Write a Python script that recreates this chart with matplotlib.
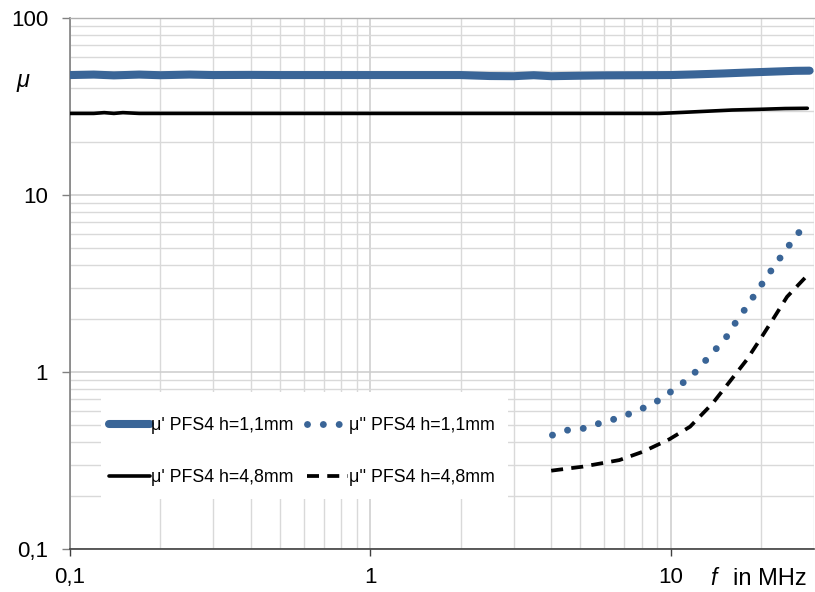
import matplotlib
matplotlib.use('Agg')
import matplotlib.pyplot as plt
from matplotlib.ticker import FixedLocator, FixedFormatter, LogLocator, NullFormatter
from matplotlib.patches import Rectangle

plt.rcParams['font.family'] = ['Liberation Sans', 'DejaVu Sans']

# ---------------- data ----------------
# mu' PFS4 h=1,1mm
f_mu1_a = [0.1, 0.12, 0.14, 0.17, 0.2, 0.25, 0.3, 0.4, 0.5, 0.7, 1, 1.5, 2, 2.5,
           3, 3.5, 4, 5, 6, 8, 10, 12, 15, 18, 22, 26, 29]
mu1_a = [47.6, 47.9, 47.4, 47.9, 47.5, 47.9, 47.6, 47.7, 47.6, 47.6, 47.6, 47.6, 47.6, 47.0,
         46.9, 47.5, 46.9, 47.2, 47.4, 47.5, 47.6, 48.0, 48.6, 49.2, 49.8, 50.3, 50.4]
# mu' PFS4 h=4,8mm
f_mu1_b = [0.1, 0.12, 0.13, 0.14, 0.15, 0.17, 0.2, 0.3, 0.5, 1, 2, 3, 5, 7, 9.2, 11,
           13, 16, 20, 24, 28.5]
mu1_b = [28.9, 28.9, 29.2, 28.9, 29.2, 28.9, 28.9, 28.9, 28.9, 28.9, 28.9, 28.9, 28.9, 28.9,
         28.9, 29.3, 29.7, 30.2, 30.5, 30.8, 30.9]
# mu'' PFS4 h=1,1mm
f_mu2_a = [4.04, 4.55, 5.11, 5.73, 6.45, 7.22, 8.08, 9.0, 9.95, 10.97, 12.0, 13.0, 14.1,
           15.3, 16.3, 17.5, 18.7, 20.0, 21.4, 23.0, 24.7, 26.5, 27.4]
mu2_a = [0.44, 0.47, 0.48, 0.51, 0.54, 0.577, 0.624, 0.683, 0.768, 0.867, 0.987, 1.15, 1.34,
         1.57, 1.86, 2.21, 2.61, 3.09, 3.66, 4.35, 5.15, 6.02, 6.5]
# mu'' PFS4 h=4,8mm
f_mu2_b = [4.0, 5.1, 6.75, 8.1, 9.9, 11.6, 13.8, 15.7, 17.9, 20.1, 22.0, 24.4, 28.8]
mu2_b = [0.277, 0.292, 0.318, 0.355, 0.417, 0.491, 0.666, 0.88, 1.17, 1.58, 2.01, 2.66, 3.58]

x_ticks = [0.1, 1, 10]
x_tick_labels = ['0,1', '1', '10']
y_ticks = [0.1, 1, 10, 100]
y_tick_labels = ['0,1', '1', '10', '100']

labels = ["\u03bc' PFS4 h=1,1mm", "\u03bc'' PFS4 h=1,1mm",
          "\u03bc' PFS4 h=4,8mm", "\u03bc'' PFS4 h=4,8mm"]

BLUE = '#3A6597'

# ---------------- figure ----------------
W, H = 815, 592
fig = plt.figure(figsize=(W / 100, H / 100), dpi=100)
L, R, T, B = 70, 814, 18, 549
ax = fig.add_axes([L / W, 1 - B / H, (R - L) / W, (B - T) / H])
ax.set_xscale('log')
ax.set_yscale('log')
ax.set_xlim(0.1, 30)
ax.set_ylim(0.1, 100)

# grid
ax.xaxis.set_minor_locator(LogLocator(base=10, subs=range(2, 10)))
ax.yaxis.set_minor_locator(LogLocator(base=10, subs=range(2, 10)))
ax.xaxis.set_minor_formatter(NullFormatter())
ax.yaxis.set_minor_formatter(NullFormatter())
ax.grid(which='minor', color='#d9d9d9', lw=1.0)
ax.grid(which='major', color='#cccccc', lw=1.1)

ax.xaxis.set_major_locator(FixedLocator(x_ticks))
ax.xaxis.set_major_formatter(FixedFormatter(x_tick_labels))
ax.yaxis.set_major_locator(FixedLocator(y_ticks))
ax.yaxis.set_major_formatter(FixedFormatter(y_tick_labels))

ax.tick_params(which='minor', length=0)
ax.tick_params(axis='y', which='major', length=5.8, width=1, color='#808080',
               labelsize=16, pad=10, direction='out')
ax.tick_params(axis='x', which='major', length=5, width=1, color='#404040',
               labelsize=16, pad=8, direction='out')

ax.spines['right'].set_visible(False)
ax.spines['top'].set_color('#b0b0b0')
ax.spines['top'].set_linewidth(1.0)
ax.spines['left'].set_color('#808080')
ax.spines['left'].set_linewidth(1.2)
ax.spines['bottom'].set_color('#404040')
ax.spines['bottom'].set_linewidth(1.2)

# curves
h1, = ax.plot(f_mu1_a, mu1_a, color=BLUE, lw=5.8, solid_capstyle='round', zorder=3)
h3, = ax.plot(f_mu1_b, mu1_b, color='black', lw=2.6, solid_capstyle='round', zorder=3)
h2, = ax.plot(f_mu2_a, mu2_a, color=BLUE, lw=5.0, linestyle=(0, (0.001, 2.28)),
              dash_capstyle='round', zorder=3)
h4, = ax.plot(f_mu2_b, mu2_b, color='black', lw=2.7, linestyle=(0, (3.2, 2.2)),
              dash_capstyle='butt', zorder=3)

# legend background box
x0 = (101 - L) / (R - L)
x1 = (508 - L) / (R - L)
y0 = (B - 499) / (B - T)
y1 = (B - 392) / (B - T)
ax.add_patch(Rectangle((x0, y0), x1 - x0, y1 - y0, transform=ax.transAxes,
                       facecolor='white', edgecolor='none', zorder=2.5))

leg = ax.legend([h1, h3, h2, h4], [labels[0], labels[2], labels[1], labels[3]],
                ncol=2, loc='center',
                bbox_to_anchor=((302 - L) / (R - L), (B - 451.5) / (B - T)),
                frameon=False, fontsize=12.8, handlelength=2.3, handletextpad=0.05,
                columnspacing=0.75, labelspacing=2.0, borderpad=0)
leg.set_zorder(5)

# axis titles
fig.text(23 / W, 1 - 80 / H, '\u03bc', style='italic', fontsize=17, ha='center', va='center')
fig.text(710 / W, 1 - 585 / H, 'f', style='italic', fontsize=16.5, ha='left', va='baseline')
fig.text(733 / W, 1 - 585 / H, 'in MHz', fontsize=17, ha='left', va='baseline')

fig.savefig('out.png', dpi=100)
